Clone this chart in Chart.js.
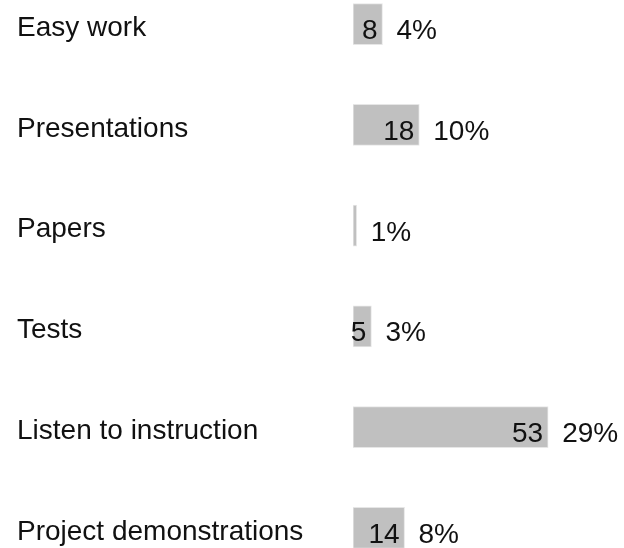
<!DOCTYPE html>
<html>
<head>
<meta charset="utf-8">
<script src="https://cdn.jsdelivr.net/npm/chart.js@4"></script>
<style>
  html, body { margin: 0; padding: 0; background: #fff; overflow: hidden; }
  #wrap { position: absolute; left: 0; top: -43px; width: 624px; height: 638px; }
</style>
</head>
<body>
<div id="wrap"><canvas id="chart"></canvas></div>
<script>
const categories = ['Easy work', 'Presentations', 'Papers', 'Tests', 'Listen to instruction', 'Project demonstrations'];
const counts = [8, 18, 1, 5, 53, 14];
const percentLabels = ['4%', '10%', '1%', '3%', '29%', '8%'];

const FONT = '"Liberation Sans", Arial, sans-serif';

// count inside the bar end, percent right after it
const barLabels = {
  id: 'barLabels',
  afterDatasetsDraw(chart) {
    const ctx = chart.ctx;
    const meta = chart.getDatasetMeta(0);
    ctx.save();
    ctx.font = '28px ' + FONT;
    ctx.fillStyle = '#111';
    ctx.textBaseline = 'alphabetic';
    meta.data.forEach((bar, i) => {
      const barW = bar.x - bar.base;
      if (barW > 10) {
        ctx.textAlign = 'right';
        ctx.fillText(String(counts[i]), bar.x - 5, bar.y + 15);
      }
      ctx.textAlign = 'left';
      ctx.fillText(percentLabels[i], bar.x + 14, bar.y + 15);
    });
    ctx.restore();
  }
};

new Chart(document.getElementById('chart'), {
  type: 'bar',
  data: {
    labels: categories,
    datasets: [{
      data: counts,
      backgroundColor: '#c0c0c0',
      borderColor: '#e6e6e6',
      borderWidth: 1,
      borderSkipped: false,
      barThickness: 41
    }]
  },
  options: {
    indexAxis: 'y',
    responsive: true,
    maintainAspectRatio: false,
    animation: false,
    layout: { padding: { left: 17, right: 0, top: 0, bottom: 0 } },
    plugins: {
      legend: { display: false },
      tooltip: { enabled: false }
    },
    scales: {
      x: {
        display: false,
        min: 0,
        max: 73.6
      },
      y: {
        grid: { display: false },
        border: { display: false },
        ticks: {
          crossAlign: 'far',
          color: '#111',
          padding: 0,
          labelOffset: 4,
          font: { family: FONT, size: 28 }
        },
        afterFit(scale) { scale.width = 336; }
      }
    }
  },
  plugins: [barLabels]
});
</script>
</body>
</html>
